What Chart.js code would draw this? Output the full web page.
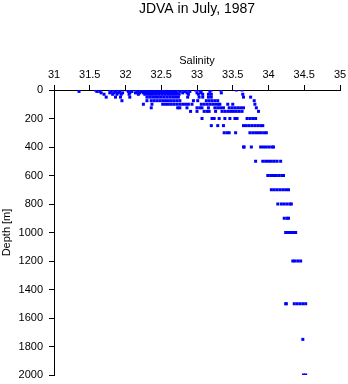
<!DOCTYPE html>
<html>
<head>
<meta charset="utf-8">
<script src="https://cdn.jsdelivr.net/npm/chart.js@4/dist/chart.umd.min.js"></script>
<style>
html,body{margin:0;padding:0;background:#fff;}
canvas{display:block;}
</style>
</head>
<body>
<canvas id="c" width="348" height="384"></canvas>
<script>
// Depth levels (m) and salinity readings at each level
const depths = [0,10,20,30,50,75,100,125,150,200,250,300,400,500,600,700,800,900,1000,1200,1500,1750,2000];
const s0 = [31.58,31.78,31.83,31.88,32.02,32.07,32.15,32.19,32.24,32.28,32.33,32.37,32.41,32.45,32.49,32.53,32.57,32.61,32.65,32.69,32.73,32.8,32.84,32.88,32.98,33.02,33.2,33.33,33.55,33.63];
const s10 = [31.35,31.6,31.64,31.8,31.86,31.92,32.04,32.09,32.17,32.22,32.26,32.3,32.34,32.38,32.42,32.46,32.5,32.54,32.58,32.62,32.66,32.7,32.76,32.83,32.9,33.05,33.18];
const s20 = [31.66,31.78,31.84,31.9,31.96,32.06,32.14,32.2,32.25,32.29,32.33,32.37,32.41,32.45,32.49,32.53,32.57,32.61,32.65,32.69,32.72,32.8,32.86,33.0,33.06,33.34];
const s30 = [31.7,31.82,31.88,31.94,32.05,32.18,32.27,32.31,32.35,32.39,32.43,32.47,32.51,32.55,32.59,32.63,32.67,32.71,32.75,32.88,33.02,33.08,33.16,33.2,33.64];
const s50 = [31.73,31.86,31.93,32.06,32.3,32.34,32.38,32.42,32.46,32.5,32.54,32.58,32.62,32.66,32.7,32.74,32.87,33.03,33.08,33.16,33.2,33.65,33.75];
const s75 = [31.95,32.3,32.36,32.4,32.44,32.48,32.52,32.56,32.6,32.64,32.68,32.72,32.76,32.95,33.01,33.13,33.17,33.21,33.25,33.29,33.8];
const s100 = [32.25,32.37,32.52,32.56,32.6,32.64,32.68,32.72,32.76,32.8,32.84,32.88,32.93,33.06,33.1,33.14,33.18,33.22,33.26,33.3,33.32,33.43,33.5,33.81];
const s125 = [32.36,32.73,32.76,32.86,33.0,33.04,33.07,33.16,33.25,33.29,33.33,33.37,33.45,33.49,33.53,33.57,33.61,33.65,33.83];
const s150 = [32.91,33.0,33.1,33.14,33.17,33.26,33.35,33.39,33.43,33.47,33.51,33.55,33.59,33.63,33.86];
const s200 = [33.07,33.21,33.24,33.31,33.39,33.46,33.53,33.56,33.7,33.74,33.78,33.82];
const s250 = [33.2,33.29,33.37,33.65,33.69,33.73,33.77,33.81,33.85,33.89,33.92];
const s300 = [33.38,33.42,33.45,33.54,33.74,33.78,33.82,33.86,33.9,33.94,33.97];
const s400 = [33.65,33.66,33.76,33.89,33.93,33.97,34.01,34.05,34.07];
const s500 = [33.82,33.92,33.96,34.0,34.04,34.08,34.12,34.17];
const s600 = [33.99,34.03,34.07,34.11,34.15,34.19,34.21];
const s700 = [34.04,34.08,34.12,34.16,34.2,34.24,34.28];
const s800 = [34.13,34.18,34.22,34.26,34.3,34.32];
const s900 = [34.22,34.26,34.28];
const s1000 = [34.24,34.28,34.32,34.35,34.38];
const s1200 = [34.34,34.37,34.41,34.45];
const s1500 = [34.24,34.25,34.36,34.4,34.44,34.48,34.52];
const s1750 = [34.48];
const s2000 = [34.49,34.52];
const salinityByLevel = [s0,s10,s20,s30,s50,s75,s100,s125,s150,s200,s250,s300,s400,s500,s600,s700,s800,s900,s1000,s1200,s1500,s1750,s2000];

const xTicks = [31,31.5,32,32.5,33,33.5,34,34.5,35];
const yTicks = [0,200,400,600,800,1000,1200,1400,1600,1800,2000];

const points = [];
depths.forEach((d, i) => salinityByLevel[i].forEach(s => points.push({x: s, y: d})));

Chart.defaults.font.family = "'Liberation Sans', Arial, Helvetica, sans-serif";
Chart.defaults.color = '#000';

function noPad(s) { s.paddingTop = 0; s.paddingBottom = 0; s.paddingLeft = 0; s.paddingRight = 0; }

new Chart(document.getElementById('c'), {
  type: 'scatter',
  data: {
    datasets: [{
      data: points,
      pointStyle: 'rect',
      pointRadius: 2.12,
      borderWidth: 0,
      pointBorderWidth: 0,
      backgroundColor: '#0000ff',
      pointBackgroundColor: '#0000ff'
    }]
  },
  options: {
    responsive: false,
    animation: false,
    events: [],
    layout: { padding: { top: 0, right: 8, bottom: 9, left: 0 } },
    plugins: {
      legend: { display: false },
      tooltip: { enabled: false },
      title: {
        display: true,
        text: 'JDVA in July, 1987',
        fullSize: false,
        color: '#000',
        font: { size: 14, weight: 'normal', lineHeight: 1.2 },
        padding: { top: 1, bottom: 1 }
      }
    },
    scales: {
      x: {
        type: 'linear',
        position: 'top',
        min: 31, max: 35,
        afterBuildTicks: s => { s.ticks = xTicks.map(v => ({value: v})); },
        ticks: { font: { size: 11 }, color: '#000', padding: 3, maxRotation: 0, callback: v => String(v) },
        grid: { drawOnChartArea: false, drawTicks: true, tickLength: 5, color: '#000' },
        border: { display: true, color: '#000', width: 1 },
        title: { display: true, text: 'Salinity', color: '#000', font: { size: 11, lineHeight: 1.2 }, padding: { top: 36, bottom: 0 } },
        afterFit: s => { s.height = 71.2; noPad(s); }
      },
      y: {
        type: 'linear',
        reverse: true,
        min: 0, max: 2000,
        afterBuildTicks: s => { s.ticks = yTicks.map(v => ({value: v})); },
        ticks: { font: { size: 11 }, color: '#000', padding: 6, callback: v => String(v) },
        grid: { drawOnChartArea: false, drawTicks: true, tickLength: 5, color: '#000' },
        border: { display: true, color: '#000', width: 1 },
        title: { display: true, text: 'Depth [m]', color: '#000', font: { size: 11, lineHeight: 1.2 }, padding: { top: 0.5, bottom: 0 } },
        afterFit: s => { s.width = 54; noPad(s); }
      }
    }
  }
});
</script>
</body>
</html>
